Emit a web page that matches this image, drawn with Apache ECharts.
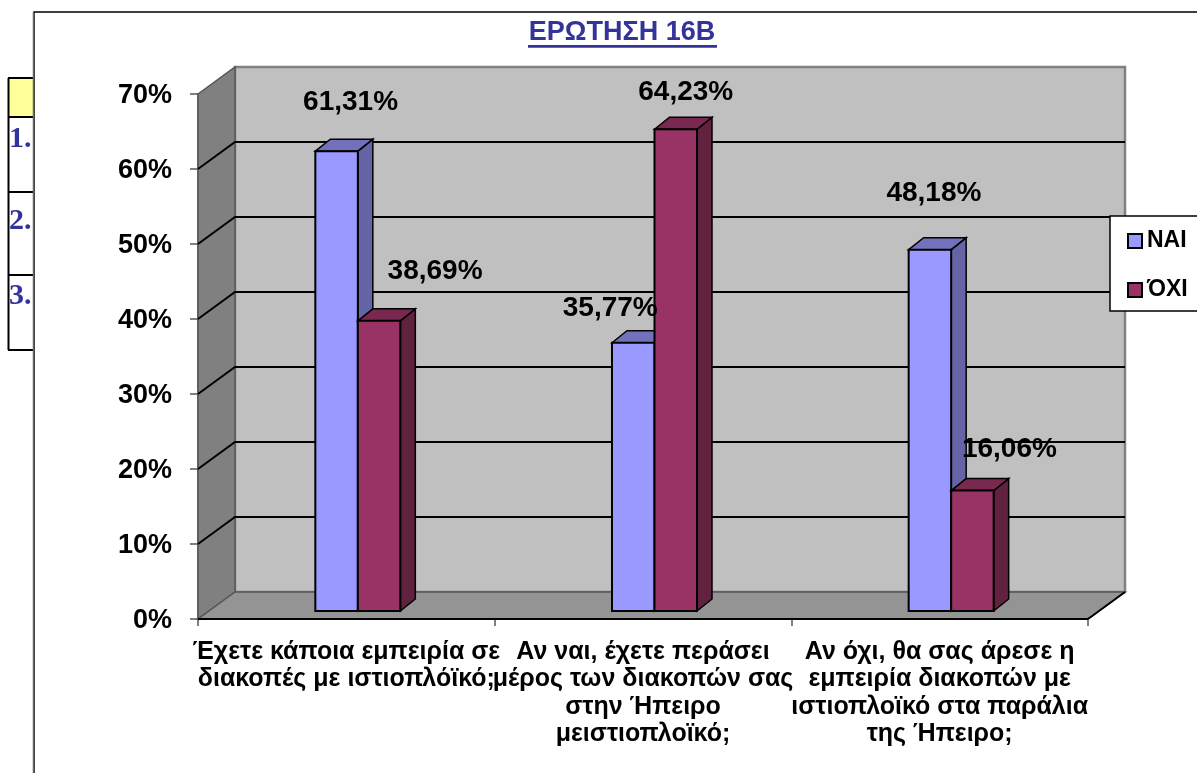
<!DOCTYPE html>
<html>
<head>
<meta charset="utf-8">
<title>ΕΡΩΤΗΣΗ 16Β</title>
<style>
	html, body { margin: 0; padding: 0; background: #fff; }
	#chart { width: 1197px; height: 773px; }
</style>
<script src="https://cdn.jsdelivr.net/npm/echarts@6/dist/echarts.min.js"></script>
</head>
<body>
<div id="chart"></div>
<script>
	const titleText = 'ΕΡΩΤΗΣΗ 16Β'
	const categories = [
		'Έχετε κάποια εμπειρία σε\nδιακοπές με ιστιοπλόϊκό;',
		'Αν ναι, έχετε περάσει\nμέρος των διακοπών σας\nστην Ήπειρο\nμειστιοπλοϊκό;',
		'Αν όχι, θα σας άρεσε η\nεμπειρία διακοπών με\nιστιοπλοϊκό στα παράλια\nτης Ήπειρο;'
	]
	const seriesNames = ['ΝΑΙ', 'ΌΧΙ']
	const naiValues = [61.31, 35.77, 48.18]
	const oxiValues = [38.69, 64.23, 16.06]
	const yTicks = [10, 20, 30, 40, 50, 60]
	const tableNumbers = ['1.', '2.', '3.']

	// 3d look
	const depthX = 37
	const depthY = -27
	const barWidth = 42.5
	const barShift = 11.5 // bars stand a little back from the front edge
	const barLift = -8
	const sideX = 15
	const sideY = -12

	// where each data label sits, relative to the top middle of its bar
	const naiLabelOffsets = [[14, -49], [-23, -34], [4, -56]]
	const oxiLabelOffsets = [[56, -50], [10, -37], [37, -41]]

	const fontName = '"Liberation Sans", Arial, sans-serif'

	const poly = (points, fill, stroke, width) => ({
		type: 'polygon',
		shape: { points: points },
		style: { fill: fill, stroke: stroke, lineWidth: width }
	})

	const renderWalls = (params, api) => {
		const rect = params.coordSys
		const left = rect.x
		const right = rect.x + rect.width
		const top = api.coord([0, 70])[1]
		const bottom = api.coord([0, 0])[1]
		return {
			type: 'group',
			children: [
				// back wall
				poly([[left + depthX, top + depthY], [right + depthX, top + depthY], [right + depthX, bottom + depthY], [left + depthX, bottom + depthY]], '#C0C0C0', '#808080', 2.5),
				// left wall
				poly([[left, top], [left + depthX, top + depthY], [left + depthX, bottom + depthY], [left, bottom]], '#808080', '#555555', 1.5),
				// floor
				poly([[left, bottom], [left + depthX, bottom + depthY], [right + depthX, bottom + depthY], [right, bottom]], '#949494', '#555555', 1.5),
				{
					type: 'line',
					shape: { x1: left, y1: bottom, x2: right, y2: bottom },
					style: { stroke: '#000', lineWidth: 2 }
				},
				{
					type: 'line',
					shape: { x1: right, y1: bottom, x2: right + depthX, y2: bottom + depthY },
					style: { stroke: '#000', lineWidth: 2 }
				}
			]
		}
	}

	const renderGridLine = (params, api) => {
		const rect = params.coordSys
		const y = api.coord([0, api.value(0)])[1]
		return {
			type: 'polyline',
			shape: { points: [[rect.x, y], [rect.x + depthX, y + depthY], [rect.x + rect.width + depthX, y + depthY]] },
			style: { fill: null, stroke: '#000', lineWidth: 2 }
		}
	}

	const makeBarRender = (side, front, sideColor, topColor) => (params, api) => {
		const cat = api.value(0)
		const top = api.coord([cat, api.value(1)])
		const base = api.coord([cat, 0])
		const x0 = top[0] + barShift + (side === 0 ? -barWidth : 0)
		const x1 = x0 + barWidth
		const y0 = top[1] + barLift
		const y1 = base[1] + barLift
		return {
			type: 'group',
			children: [
				poly([[x1, y0], [x1 + sideX, y0 + sideY], [x1 + sideX, y1 + sideY], [x1, y1]], sideColor, '#000', 1.5),
				poly([[x0, y0], [x0 + sideX, y0 + sideY], [x1 + sideX, y0 + sideY], [x1, y0]], topColor, '#000', 1.5),
				poly([[x0, y0], [x1, y0], [x1, y1], [x0, y1]], front, '#000', 2)
			]
		}
	}

	const renderLabel = (params, api) => {
		const side = api.value(2)
		const cat = api.value(0)
		const value = api.value(1)
		const top = api.coord([cat, value])
		const offset = (side === 0 ? naiLabelOffsets : oxiLabelOffsets)[cat]
		const middle = top[0] + barShift + (side === 0 ? -barWidth / 2 : barWidth / 2)
		return {
			type: 'text',
			style: {
				x: middle + offset[0],
				y: top[1] + barLift + offset[1],
				text: value.toFixed(2).replace('.', ',') + '%',
				align: 'center',
				verticalAlign: 'middle',
				fill: '#000',
				font: 'bold 28px ' + fontName
			}
		}
	}

	const tableLines = [78, 117, 192, 275, 350].map((y) => ({
		type: 'line',
		shape: { x1: 8, y1: y, x2: 34, y2: y },
		style: { stroke: '#000', lineWidth: 2 }
	}))

	const tableTexts = tableNumbers.map((t, i) => ({
		type: 'text',
		x: 9,
		y: [139, 221, 296][i],
		style: { text: t, fill: '#333399', verticalAlign: 'middle', font: 'bold 30px "Liberation Serif", serif' }
	}))

	const option = {
		animation: false,
		backgroundColor: '#fff',
		title: {
			text: titleText,
			left: 622,
			top: 19,
			textAlign: 'center',
			padding: 0,
			textStyle: { color: '#333399', fontFamily: fontName, fontWeight: 'bold', fontSize: 27 }
		},
		legend: {
			data: seriesNames,
			orient: 'vertical',
			left: 1110,
			top: 216,
			padding: [12, 40, 8, 17],
			itemWidth: 14,
			itemHeight: 14,
			itemGap: 23,
			icon: 'rect',
			backgroundColor: '#fff',
			borderColor: '#000',
			borderWidth: 1.5,
			textStyle: { color: '#000', fontFamily: fontName, fontWeight: 'bold', fontSize: 23, height: 26, lineHeight: 26 }
		},
		grid: { left: 198, right: 109, top: 94, bottom: 154 },
		xAxis: {
			type: 'category',
			data: categories,
			axisLine: { show: false },
			axisTick: { show: true, length: 7, lineStyle: { color: '#555', width: 1.5 } },
			axisLabel: {
				interval: 0,
				margin: 19,
				color: '#000',
				fontFamily: fontName,
				fontWeight: 'bold',
				fontSize: 25,
				lineHeight: 27.5,
				hideOverlap: false
			},
			splitLine: { show: false }
		},
		yAxis: {
			type: 'value',
			min: 0,
			max: 70,
			interval: 10,
			axisLine: { show: true, lineStyle: { color: '#555', width: 1.5 } },
			axisTick: { show: true, length: 8, lineStyle: { color: '#555', width: 1.5 } },
			axisLabel: {
				margin: 26,
				color: '#000',
				fontFamily: fontName,
				fontWeight: 'bold',
				fontSize: 27,
				verticalAlign: 'top',
				lineHeight: 4,
				formatter: '{value}%'
			},
			splitLine: { show: false }
		},
		graphic: [
			{
				type: 'rect',
				shape: { x: 8, y: 78, width: 26, height: 39 },
				style: { fill: '#FFFF99' }
			},
			{
				type: 'line',
				shape: { x1: 8.5, y1: 78, x2: 8.5, y2: 350 },
				style: { stroke: '#000', lineWidth: 2 }
			},
			...tableLines,
			...tableTexts,
			// chart frame lies on top of the table behind it
			{
				type: 'rect',
				shape: { x: 34, y: 12, width: 1170, height: 770 },
				style: { fill: '#fff', stroke: '#000', lineWidth: 1.5 }
			},
			{
				type: 'line',
				shape: { x1: 33.5, y1: 12, x2: 33.5, y2: 773 },
				style: { stroke: '#666', lineWidth: 1.5 }
			},
			{
				type: 'rect',
				shape: { x: 528, y: 45, width: 189, height: 2.7 },
				style: { fill: '#333399' }
			}
		],
		series: [
			{
				type: 'custom',
				name: 'walls',
				z: 1,
				silent: true,
				clip: false,
				renderItem: renderWalls,
				data: [[0, 0]],
				encode: { x: 0, y: 1 }
			},
			{
				type: 'custom',
				name: 'gridlines',
				z: 1,
				silent: true,
				clip: false,
				renderItem: renderGridLine,
				data: yTicks.map((t) => [t]),
				encode: { y: 0 }
			},
			{
				type: 'custom',
				name: seriesNames[0],
				z: 3,
				clip: false,
				itemStyle: { color: '#9999FF', borderColor: '#000', borderWidth: 2 },
				renderItem: makeBarRender(0, '#9999FF', '#6464A6', '#7272BC'),
				data: naiValues.map((v, i) => [i, v]),
				encode: { x: 0, y: 1 }
			},
			{
				type: 'custom',
				name: seriesNames[1],
				z: 4,
				clip: false,
				itemStyle: { color: '#993366', borderColor: '#000', borderWidth: 2 },
				renderItem: makeBarRender(1, '#993366', '#612240', '#79284F'),
				data: oxiValues.map((v, i) => [i, v]),
				encode: { x: 0, y: 1 }
			},
			{
				type: 'custom',
				name: 'labels',
				z: 5,
				silent: true,
				clip: false,
				renderItem: renderLabel,
				data: [
					...naiValues.map((v, i) => [i, v, 0]),
					...oxiValues.map((v, i) => [i, v, 1])
				],
				encode: { x: 0, y: 1 }
			}
		]
	}

	let Echarts = echarts.init(document.getElementById('chart'))
	Echarts.setOption(option)
	window.onresize = () => {
		Echarts.resize()
	}
</script>
</body>
</html>
